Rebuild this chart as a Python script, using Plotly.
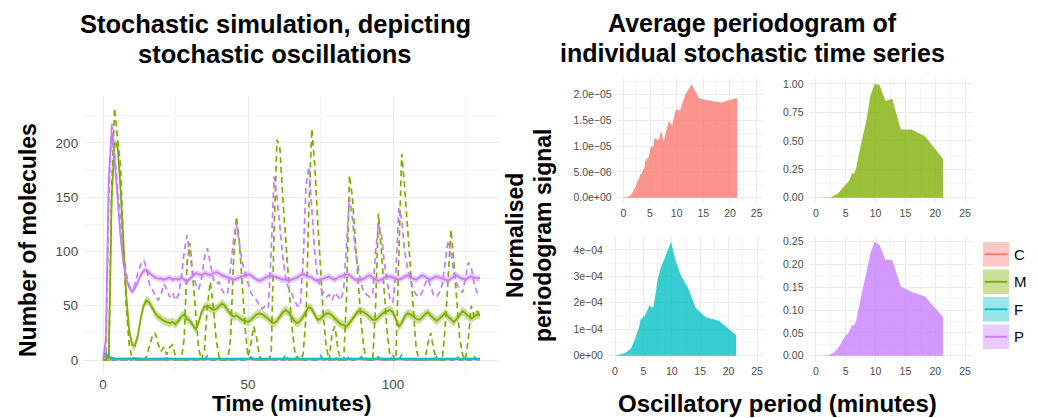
import plotly.graph_objects as go

W, H = 1038, 418
FONT = "Liberation Sans, Arial, Helvetica, sans-serif"
TICK_GREY = "#4D4D4D"
GRID = "#EBEBEB"
GRID_MINOR = "#F4F4F4"

# ---------------- data: stochastic simulation (left) ----------------
species = ["C", "M", "F", "P"]
colors = {"C": "#F8766D", "M": "#7CAE00", "F": "#00BFC4", "P": "#C77CFF"}

time_min = list(range(131))

M_single = [
    0, 0, 0, 160, 232, 205, 180, 110, 50, 15,
    2, 0, 0, 0, 0, 3, 12, 22, 25, 15,
    8, 12, 5, 12, 14, 3, 0, 0, 20, 90,
    108, 75, 40, 10, 0, 10, 50, 72, 50, 20,
    3, 0, 0, 0, 20, 90, 132, 110, 70, 30,
    3, 15, 31, 20, 3, 0, 0, 0, 5, 120,
    203, 195, 150, 110, 70, 35, 10, 0, 0, 5,
    40, 140, 213, 180, 130, 80, 40, 12, 0, 25,
    31, 10, 0, 0, 60, 170, 150, 110, 70, 35,
    10, 0, 0, 0, 50, 135, 100, 60, 25, 3,
    0, 0, 100, 190, 160, 120, 80, 40, 10, 0,
    0, 0, 15, 25, 10, 0, 0, 0, 30, 80,
    120, 90, 50, 20, 5, 0, 20, 50, 40, 45,
    40,
]
P_single = [
    0, 0, 150, 218, 190, 160, 130, 100, 80, 68,
    65, 70, 80, 88, 92, 85, 70, 65, 60, 55,
    60, 70, 65, 58, 62, 55, 60, 75, 100, 115,
    95, 80, 70, 65, 75, 95, 103, 90, 75, 70,
    72, 65, 60, 62, 85, 110, 126, 110, 90, 80,
    70, 62, 58, 55, 50, 47, 50, 48, 100, 169,
    150, 120, 95, 75, 66, 62, 55, 50, 49, 90,
    160, 178, 140, 100, 75, 66, 62, 58, 60, 55,
    62, 58, 55, 65, 110, 150, 130, 100, 85, 70,
    62, 60, 58, 60, 100, 125, 115, 90, 70, 55,
    53, 80, 140, 130, 100, 85, 75, 65, 60, 58,
    62, 70, 75, 68, 60, 58, 62, 70, 90, 110,
    100, 80, 70, 65, 62, 75, 90, 85, 70, 62,
    60,
]
M_mean = [
    0, 0, 5, 150, 200, 198, 160, 110, 60, 28,
    14, 13, 22, 38, 50, 55, 53, 48, 43, 40,
    38, 36, 35, 34, 35, 33, 36, 40, 42, 38,
    36, 32, 28, 35, 44, 49, 50, 48, 46, 47,
    50, 52, 50, 46, 42, 40, 41, 39, 37, 36,
    35, 37, 40, 42, 43, 42, 40, 38, 35, 34,
    36, 40, 44, 46, 44, 40, 36, 34, 36, 40,
    45, 49, 47, 42, 37, 38, 41, 43, 43, 41,
    38, 35, 33, 32, 31, 34, 38, 42, 45, 45,
    44, 42, 39, 37, 37, 39, 42, 44, 45, 46,
    44, 38, 31, 34, 40, 43, 42, 40, 38, 37,
    39, 42, 44, 41, 38, 36, 38, 41, 43, 40,
    37, 35, 38, 42, 45, 43, 40, 38, 40, 42,
    41,
]
P_mean = [
    0, 20, 170, 210, 185, 150, 115, 90, 75, 67,
    63, 66, 72, 78, 82, 83, 80, 78, 76, 75,
    75, 74, 75, 76, 74, 75, 74, 76, 74, 72,
    75, 78, 80, 79, 78, 80, 79, 78, 80, 81,
    80, 78, 77, 76, 75, 74, 75, 76, 77, 78,
    79, 78, 76, 74, 73, 74, 76, 77, 78, 77,
    76, 75, 74, 74, 73, 74, 75, 76, 78, 79,
    78, 77, 76, 74, 73, 74, 75, 76, 77, 75,
    74, 76, 77, 78, 79, 78, 76, 74, 73, 74,
    75, 77, 78, 76, 74, 73, 74, 76, 77, 77,
    76, 75, 74, 75, 77, 78, 76, 75, 74, 76,
    78, 77, 75, 74, 76, 77, 76, 75, 74, 73,
    75, 77, 78, 76, 75, 74, 76, 77, 76, 75,
    76,
]
C_mean = [
    3, 3, 1.5, 1, 0.8, 0.6, 0.5, 0.5, 0.4, 0.5,
    0.5, 0.6, 0.5, 0.4, 0.5, 0.5, 0.6, 0.5, 0.5, 0.4,
    0.5, 0.5, 0.6, 0.5, 0.5, 0.4, 0.5, 0.5, 0.6, 0.5,
    0.5, 0.4, 0.5, 0.5, 0.6, 0.5, 0.5, 0.4, 0.5, 0.5,
    0.6, 0.5, 0.5, 0.4, 0.5, 0.5, 0.6, 0.5, 0.5, 0.4,
    0.5, 0.5, 0.6, 0.5, 0.5, 0.4, 0.5, 0.5, 0.6, 0.5,
    0.5, 0.4, 0.5, 0.5, 0.6, 0.5, 0.5, 0.4, 0.5, 0.5,
    0.6, 0.5, 0.5, 0.4, 0.5, 0.5, 0.6, 0.5, 0.5, 0.4,
    0.5, 0.5, 0.6, 0.5, 0.5, 0.4, 0.5, 0.5, 0.6, 0.5,
    0.5, 0.4, 0.5, 0.5, 0.6, 0.5, 0.5, 0.4, 0.5, 0.5,
    0.6, 0.5, 0.5, 0.4, 0.5, 0.5, 0.6, 0.5, 0.5, 0.4,
    0.5, 0.5, 0.6, 0.5, 0.5, 0.4, 0.5, 0.5, 0.6, 0.5,
    0.5, 0.4, 0.5, 0.5, 0.6, 0.5, 0.5, 0.4, 0.5, 0.5,
    0.5,
]
F_mean = [
    5, 5, 3, 2, 1.5, 1.2, 1.3, 1.2, 1.1, 1.3,
    1.4, 1.6, 1.5, 1.3, 1.2, 1.2, 1.3, 1.4, 1.3, 1.2,
    1.3, 1.5, 1.4, 1.2, 1.2, 1.3, 1.3, 1.4, 1.3, 1.2,
    1.3, 1.3, 1.2, 1.3, 1.4, 1.5, 1.4, 1.3, 1.2, 1.3,
    1.4, 1.3, 1.2, 1.3, 1.3, 1.4, 1.3, 1.2, 1.3, 1.4,
    1.5, 1.4, 1.3, 1.2, 1.3, 1.3, 1.4, 1.5, 1.3, 1.2,
    1.3, 1.4, 1.3, 1.2, 1.3, 1.4, 1.3, 1.2, 1.3, 1.4,
    1.3, 1.2, 1.3, 1.4, 1.5, 1.3, 1.2, 1.3, 1.4, 1.3,
    1.2, 1.3, 1.4, 1.3, 1.2, 1.3, 1.4, 1.3, 1.2, 1.3,
    1.4, 1.3, 1.2, 1.3, 1.4, 1.3, 1.2, 1.3, 1.4, 1.3,
    1.2, 1.3, 1.4, 1.3, 1.2, 1.3, 1.4, 1.3, 1.2, 1.3,
    1.4, 1.3, 1.2, 1.3, 1.4, 1.3, 1.2, 1.3, 1.4, 1.3,
    1.2, 1.3, 1.4, 1.3, 1.2, 1.3, 1.4, 1.3, 1.2, 1.3,
    1.3,
]
C_single = [
    3, 3, 1, 0, 0, 0, 0, 0, 0, 0,
    0, 1, 0, 0, 0, 0, 0, 0, 0, 0,
    0, 0, 0, 1, 0, 0, 0, 0, 0, 0,
    0, 0, 0, 0, 0, 0, 1, 0, 0, 0,
    0, 0, 0, 0, 0, 0, 0, 0, 0, 0,
    0, 1, 0, 0, 0, 0, 0, 0, 0, 0,
    0, 0, 0, 0, 0, 0, 0, 1, 0, 0,
    0, 0, 0, 0, 0, 1, 0, 0, 0, 0,
    0, 0, 0, 0, 0, 0, 0, 0, 0, 1,
    0, 0, 0, 0, 0, 0, 0, 0, 0, 0,
    0, 0, 0, 1, 0, 0, 0, 0, 0, 0,
    0, 0, 0, 0, 0, 0, 1, 0, 0, 0,
    0, 0, 0, 0, 0, 0, 0, 0, 1, 0,
    0,
]
F_single = [
    5, 6, 2, 0, 0, 0, 0, 0, 0, 0,
    0, 3, 0, 0, 0, 0, 0, 0, 0, 0,
    0, 3, 0, 0, 0, 0, 0, 0, 0, 0,
    0, 0, 0, 0, 0, 0, 4, 0, 0, 0,
    0, 0, 0, 0, 0, 0, 0, 0, 0, 0,
    0, 3, 0, 0, 0, 0, 0, 0, 4, 0,
    0, 0, 0, 5, 0, 0, 0, 3, 0, 0,
    0, 0, 0, 0, 0, 4, 0, 0, 0, 0,
    3, 0, 0, 0, 0, 4, 0, 0, 0, 3,
    0, 0, 0, 0, 0, 3, 0, 0, 0, 0,
    4, 0, 0, 5, 0, 0, 0, 0, 0, 0,
    0, 0, 0, 0, 0, 3, 0, 0, 0, 0,
    0, 0, 4, 0, 0, 0, 0, 0, 3, 0,
    0,
]
band_half = {"C": 0.6, "M": 4.0, "F": 0.8, "P": 3.0}

single = {"C": C_single, "M": M_single, "F": F_single, "P": P_single}
mean = {"C": C_mean, "M": M_mean, "F": F_mean, "P": P_mean}

# ---------------- data: average periodograms (right) ----------------
period = [0.1, 0.5, 1.0, 1.33, 1.6, 2.0, 2.29, 2.46, 2.67, 2.91, 3.2, 3.37, 3.56,
          3.76, 4.0, 4.13, 4.27, 4.41, 4.57, 4.74, 4.92, 5.12, 5.33, 5.57, 5.82,
          6.1, 6.4, 6.74, 7.11, 7.53, 8.0, 8.53, 9.14, 9.85, 10.67, 11.64, 12.8,
          14.22, 16.0, 18.29, 21.33]
pg_C_e5 = [0, 0.01, 0.03, 0.05, 0.08, 0.15, 0.2, 0.25, 0.33, 0.35, 0.47, 0.45, 0.5,
           0.55, 0.6, 0.76, 0.7, 0.76, 0.77, 0.78, 0.85, 0.98, 1.0, 0.96, 1.15,
           1.15, 1.1, 1.15, 1.3, 1.08, 1.27, 1.48, 1.4, 1.7, 1.69, 2.0, 2.19,
           1.92, 1.88, 1.84, 1.93]
pg_M = [0, 0, 0, 0, 0.001, 0.002, 0.003, 0.005, 0.008, 0.012, 0.018, 0.025, 0.032,
        0.04, 0.055, 0.065, 0.075, 0.085, 0.095, 0.1, 0.11, 0.12, 0.13, 0.15, 0.18,
        0.22, 0.21, 0.26, 0.36, 0.46, 0.59, 0.7, 0.9, 1.0, 0.99, 0.85, 0.87,
        0.6, 0.6, 0.54, 0.34]
pg_F_e4 = [0, 0.02, 0.05, 0.07, 0.09, 0.13, 0.17, 0.2, 0.24, 0.32, 0.45, 0.55, 0.65,
           0.8, 0.9, 1.0, 1.1, 1.35, 1.45, 1.35, 1.5, 1.45, 1.55, 1.6, 1.75,
           1.92, 1.82, 1.85, 2.3, 2.9, 3.3, 3.55, 3.9, 4.31, 3.6, 3.0, 2.6,
           1.8, 1.45, 1.32, 0.78]
pg_P = [0, 0, 0, 0, 0.0005, 0.001, 0.002, 0.003, 0.004, 0.006, 0.009, 0.011, 0.014,
        0.018, 0.022, 0.025, 0.028, 0.032, 0.036, 0.04, 0.043, 0.048, 0.046, 0.052, 0.06,
        0.068, 0.066, 0.076, 0.1, 0.125, 0.15, 0.182, 0.225, 0.25, 0.243, 0.21, 0.21,
        0.152, 0.14, 0.13, 0.085]
pg = {"C": [v * 1e-5 for v in pg_C_e5], "M": pg_M,
      "F": [v * 1e-4 for v in pg_F_e4], "P": pg_P}

# tick labels
left_x_ticks = [0, 50, 100]
left_y_ticks = [0, 50, 100, 150, 200]
period_ticks = [0, 5, 10, 15, 20, 25]
C_ticks = [0, 5e-6, 1e-5, 1.5e-5, 2e-5]
C_ticklabels = ["0.0e+00", "5.0e\u221206", "1.0e\u221205", "1.5e\u221205", "2.0e\u221205"]
M_ticks = [0, 0.25, 0.5, 0.75, 1.0]
M_ticklabels = ["0.00", "0.25", "0.50", "0.75", "1.00"]
F_ticks = [0, 1e-4, 2e-4, 3e-4, 4e-4]
F_ticklabels = ["0e+00", "1e\u221204", "2e\u221204", "3e\u221204", "4e\u221204"]
P_ticks = [0, 0.05, 0.1, 0.15, 0.2, 0.25]
P_ticklabels = ["0.00", "0.05", "0.10", "0.15", "0.20", "0.25"]


def rgba(hex_color, a):
    h = hex_color.lstrip("#")
    r, g, b = int(h[0:2], 16), int(h[2:4], 16), int(h[4:6], 16)
    return f"rgba({r},{g},{b},{a})"


def px(x):
    return x / W


def py(y):
    return 1 - y / H


fig = go.Figure()

# single stochastic trajectories (dashed)
for s in species:
    fig.add_trace(go.Scatter(
        x=time_min, y=single[s], mode="lines", xaxis="x", yaxis="y",
        line=dict(color=colors[s], width=1.7, dash="6px,4px"),
        showlegend=False, hoverinfo="skip"))

# mean trajectories with ribbon
for s in species:
    upper = [v + band_half[s] for v in mean[s]]
    lower = [max(v - band_half[s], 0) for v in mean[s]]
    fig.add_trace(go.Scatter(
        x=time_min + time_min[::-1], y=upper + lower[::-1], mode="lines",
        fill="toself", fillcolor=rgba(colors[s], 0.4), line=dict(width=0),
        xaxis="x", yaxis="y", showlegend=False, hoverinfo="skip"))
    fig.add_trace(go.Scatter(
        x=time_min, y=mean[s], mode="lines", xaxis="x", yaxis="y",
        line=dict(color=colors[s], width=1.8), showlegend=False))

# periodograms
pg_axes = {"C": ("x2", "y2"), "M": ("x3", "y3"), "F": ("x4", "y4"), "P": ("x5", "y5")}
for s in species:
    xa, ya = pg_axes[s]
    fig.add_trace(go.Scatter(
        x=period, y=pg[s], mode="lines", fill="tozeroy",
        fillcolor=rgba(colors[s], 0.78), line=dict(width=0, color=colors[s]),
        xaxis=xa, yaxis=ya, showlegend=False))

tickfont_l = dict(family=FONT, size=13.5, color=TICK_GREY)
tickfont_r = dict(family=FONT, size=10.5, color=TICK_GREY)


def axis(domain, rng, tickvals, minor_vals, font, ticktext=None, anchor=None, standoff=3):
    d = dict(domain=domain, range=rng, tickvals=tickvals, showgrid=True,
             gridcolor=GRID, gridwidth=1.2, zeroline=False, showline=False,
             ticks="", tickfont=font, fixedrange=True, ticklabelstandoff=standoff,
             minor=dict(tickvals=minor_vals, showgrid=True, gridcolor=GRID_MINOR,
                        gridwidth=0.7, ticks=""))
    if ticktext is not None:
        d["ticktext"] = ticktext
    if anchor is not None:
        d["anchor"] = anchor
    return d


period_minor = [2.5, 7.5, 12.5, 17.5, 22.5]
top_dom = [py(203.4), py(78.3)]
bot_dom = [py(361.4), py(236.0)]

fig.update_layout(
    width=W, height=H, margin=dict(l=0, r=0, t=0, b=0),
    paper_bgcolor="white", plot_bgcolor="white", showlegend=False,
    xaxis=axis([px(84.15), px(498.85)], [-6.5, 136.5], left_x_ticks, [25, 75, 125],
               tickfont_l, anchor="y", standoff=2),
    yaxis=axis([py(372.6), py(95.6)], [-11.6, 243.6], left_y_ticks,
               [25, 75, 125, 175, 225], tickfont_l, anchor="x", standoff=5),
    xaxis2=axis([px(616.7), px(763.3)], [-1.25, 26.25], period_ticks, period_minor,
                tickfont_r, anchor="y2", standoff=2),
    yaxis2=axis(top_dom, [-1.1e-6, 2.31e-5], C_ticks,
                [2.5e-6, 7.5e-6, 1.25e-5, 1.75e-5, 2.25e-5], tickfont_r,
                ticktext=C_ticklabels, anchor="x2", standoff=4),
    xaxis3=axis([px(808.5), px(972.5)], [-1.25, 26.25], period_ticks, period_minor,
                tickfont_r, anchor="y3", standoff=2),
    yaxis3=axis(top_dom, [-0.05, 1.05], M_ticks, [0.125, 0.375, 0.625, 0.875],
                tickfont_r, ticktext=M_ticklabels, anchor="x3", standoff=4),
    xaxis4=axis([px(607.9), px(764.1)], [-1.25, 26.25], period_ticks, period_minor,
                tickfont_r, anchor="y4", standoff=2),
    yaxis4=axis(bot_dom, [-2.155e-5, 4.5255e-4], F_ticks,
                [0.5e-4, 1.5e-4, 2.5e-4, 3.5e-4], tickfont_r,
                ticktext=F_ticklabels, anchor="x4", standoff=4),
    xaxis5=axis([px(808.5), px(972.5)], [-1.25, 26.25], period_ticks, period_minor,
                tickfont_r, anchor="y5", standoff=2),
    yaxis5=axis(bot_dom, [-0.0125, 0.2625], P_ticks,
                [0.025, 0.075, 0.125, 0.175, 0.225], tickfont_r,
                ticktext=P_ticklabels, anchor="x5", standoff=4),
)

annotations = []


def text(x, y, s, size, bold=True, angle=0, xanchor="center", color="black"):
    annotations.append(dict(
        x=px(x), y=py(y), xref="paper", yref="paper", text=f"<b>{s}</b>" if bold else s,
        showarrow=False, textangle=angle, xanchor=xanchor, yanchor="middle",
        borderpad=0, font=dict(family=FONT, size=size, color=color)))


text(275, 24, "Stochastic simulation, depicting", 25.5)
text(275, 54, "stochastic oscillations", 25.5)
text(752, 23, "Average periodogram of", 25)
text(752, 53, "individual stochastic time series", 25)
text(292, 403, "Time (minutes)", 22.5)
text(777, 403, "Oscillatory period (minutes)", 24)
text(28, 240, "Number of molecules", 23, angle=-90)
text(515, 236, "Normalised", 23, angle=-90)
text(543, 236, "periodogram signal", 23, angle=-90)

# legend (drawn as key boxes + labels)
shapes = []
key_tops = {"C": 242, "M": 269.5, "F": 297, "P": 324.5}
for s in species:
    t0 = key_tops[s]
    shapes.append(dict(type="rect", xref="paper", yref="paper",
                       x0=px(983), x1=px(1009), y0=py(t0 + 24.5), y1=py(t0),
                       fillcolor=rgba(colors[s], 0.4), line=dict(width=0)))
    shapes.append(dict(type="line", xref="paper", yref="paper",
                       x0=px(984.5), x1=px(1007.5), y0=py(t0 + 12.25), y1=py(t0 + 12.25),
                       line=dict(color=colors[s], width=1.8)))
    text(1013, t0 + 12.25, s, 15, bold=False, xanchor="left")

fig.update_layout(annotations=annotations, shapes=shapes)

fig.write_html(
    "out.html",
    config={"displayModeBar": False},
    post_script="document.body.style.margin='0px';document.body.style.overflow='hidden';",
)
